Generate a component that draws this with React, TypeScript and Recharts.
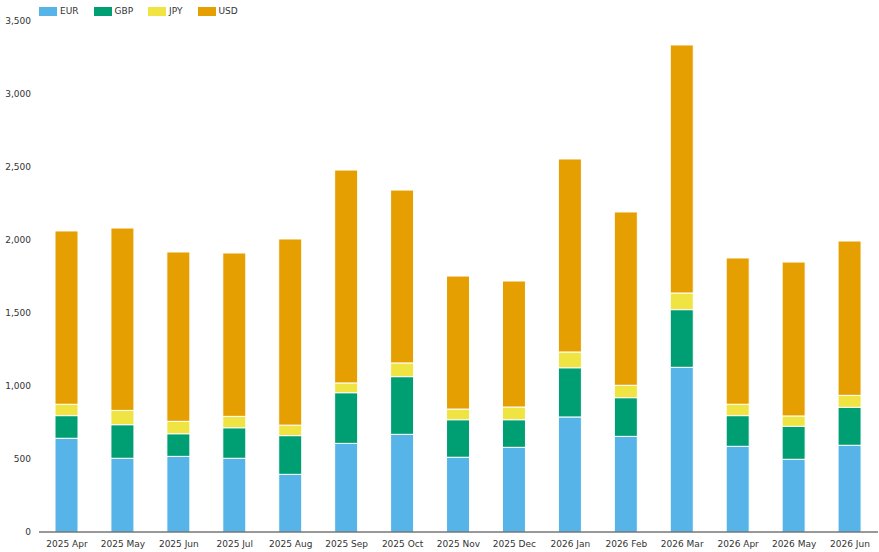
import React from "react";
import { BarChart, Bar, XAxis, YAxis } from "recharts";

const months = [
  "2025 Apr", "2025 May", "2025 Jun", "2025 Jul", "2025 Aug", "2025 Sep", "2025 Oct",
  "2025 Nov", "2025 Dec", "2026 Jan", "2026 Feb", "2026 Mar", "2026 Apr", "2026 May", "2026 Jun",
];
const eur = [642, 505, 518, 505, 395, 607, 669, 512, 580, 788, 655, 1128, 587, 498, 594];
const gbp = [155, 230, 155, 209, 265, 347, 395, 257, 189, 337, 265, 395, 210, 226, 260];
const jpy = [78, 98, 85, 78, 72, 67, 94, 73, 87, 108, 85, 114, 78, 71, 82];
const usd = [1187, 1249, 1160, 1119, 1275, 1458, 1184, 911, 863, 1322, 1187, 1699, 1002, 1054, 1057];
const yTicks = [0, 500, 1000, 1500, 2000, 2500, 3000, 3500];

const seriesNames = ["EUR", "GBP", "JPY", "USD"];
const seriesColors = ["#56B4E9", "#009E73", "#F0E442", "#E69F00"];
const seriesValues = [eur, gbp, jpy, usd];

const data = months.map((m, i) => {
  const row: Record<string, string | number> = { month: m };
  seriesNames.forEach((n, s) => {
    row[n] = seriesValues[s][i];
  });
  return row;
});

const FONT = "'DejaVu Sans', Verdana, sans-serif";
const fmt = (v: number) => v.toLocaleString("en-US");

export default function App() {
  return (
    <div
      style={{
        position: "absolute",
        left: 0,
        top: 0,
        width: 879,
        height: 552,
        background: "#fff",
        fontFamily: FONT,
      }}
    >
      <div
        style={{
          position: "absolute",
          left: 39,
          top: 7,
          display: "flex",
          gap: 15,
          alignItems: "center",
          fontSize: 9,
          color: "#333",
          lineHeight: "9px",
        }}
      >
        {seriesNames.map((n, i) => (
          <div key={n} style={{ display: "flex", alignItems: "center" }}>
            <span
              style={{
                display: "inline-block",
                width: 18,
                height: 9,
                background: seriesColors[i],
                marginRight: 3,
              }}
            />
            <span>{n}</span>
          </div>
        ))}
      </div>
      <BarChart
        width={879}
        height={552}
        data={data}
        margin={{ top: 21, right: 1, left: 0, bottom: 0 }}
        barSize={23}
      >
        <XAxis
          dataKey="month"
          height={20}
          tickLine={false}
          tickMargin={3}
          axisLine={{ stroke: "#333", strokeWidth: 1 }}
          tick={{ fontSize: 9, fill: "#333", fontFamily: FONT }}
          interval={0}
        />
        <YAxis
          width={39}
          domain={[0, 3500]}
          ticks={yTicks}
          tickFormatter={fmt}
          axisLine={false}
          tickLine={false}
          tick={{ fontSize: 9, fill: "#333", fontFamily: FONT }}
        />
        {seriesNames.map((n, i) => (
          <Bar
            key={n}
            dataKey={n}
            stackId="a"
            fill={seriesColors[i]}
            stroke="#fff"
            strokeWidth={1}
            isAnimationActive={false}
          />
        ))}
      </BarChart>
    </div>
  );
}
